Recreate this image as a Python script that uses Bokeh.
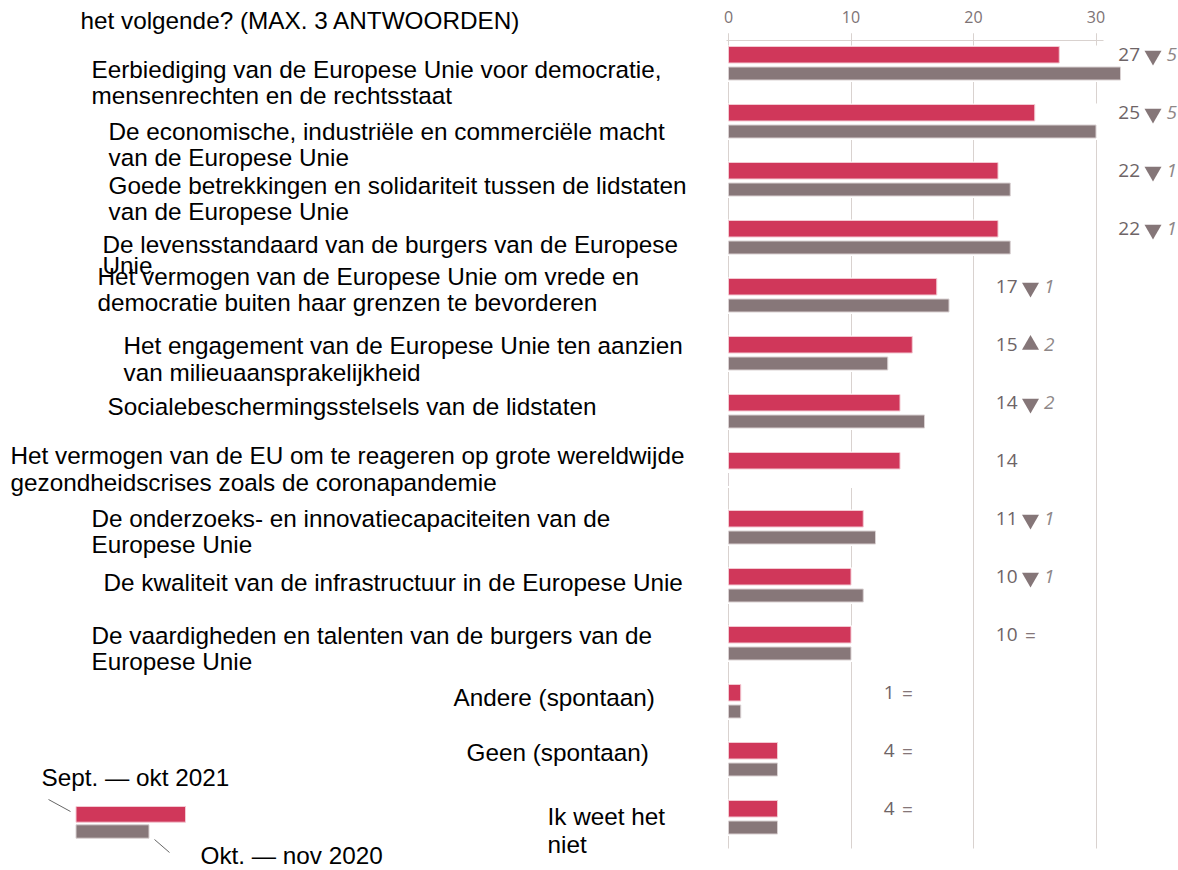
from bokeh.plotting import figure
from bokeh.models import Range1d, FixedTicker, LinearAxis, Grid
from bokeh.core.properties import value
from bokeh.embed import file_html
from bokeh.resources import INLINE

# ---------------- data ----------------
categories = [
    "Eerbiediging van de Europese Unie voor democratie,\nmensenrechten en de rechtsstaat",
    "De economische, industriële en commerciële macht\nvan de Europese Unie",
    "Goede betrekkingen en solidariteit tussen de lidstaten\nvan de Europese Unie",
    "De levensstandaard van de burgers van de Europese\nUnie",
    "Het vermogen van de Europese Unie om vrede en\ndemocratie buiten haar grenzen te bevorderen",
    "Het engagement van de Europese Unie ten aanzien\nvan milieuaansprakelijkheid",
    "Socialebeschermingsstelsels van de lidstaten",
    "Het vermogen van de EU om te reageren op grote wereldwijde\ngezondheidscrises zoals de coronapandemie",
    "De onderzoeks- en innovatiecapaciteiten van de\nEuropese Unie",
    "De kwaliteit van de infrastructuur in de Europese Unie",
    "De vaardigheden en talenten van de burgers van de\nEuropese Unie",
    "Andere (spontaan)",
    "Geen (spontaan)",
    "Ik weet het\nniet",
]
sept_okt_2021 = [27, 25, 22, 22, 17, 15, 14, 14, 11, 10, 10, 1, 4, 4]
okt_nov_2020 = [32, 30, 23, 23, 18, 13, 16, None, 12, 11, 10, 1, 4, 4]
tick_values = [0, 10, 20, 30]
series_names = ["Sept. — okt 2021", "Okt. — nov 2020"]
title_text = "het volgende? (MAX. 3 ANTWOORDEN)"

# ---------------- layout ----------------
W, H = 1178, 870
PX0, PXU = 728.0, 12.25     # canvas x of value 0, px per unit
PY0, PYU = 62.75, 58.0      # canvas y of row 0 centre, px per row


def xp(px):
    return (px - PX0) / PXU


def yp(py):
    return (py - PY0) / PYU


PINK = "#d0375a"
GREY = "#877779"
GRID = "#d9d2cf"
NUM_COL = "#6e6466"
TRI_COL = "#857678"
CHG_COL = "#8e8788"
TXT = "#000000"
LABEL_FONT = value("Liberation Sans")
NUM_FONT = value("Open Sans")
LABEL_SIZE = "24.3px"

# left label anchor: (left x, first line centre y) in canvas px
label_pos = [(91, 69), (108, 131), (108, 185), (102, 244), (97, 276), (123, 345),
             (107, 406), (10, 455), (91, 518), (103, 582), (91, 635), (453, 697),
             (466, 752), (547, 816)]
line_gap = [26, 26, 26, 21, 26, 27, 26, 27, 26, 26, 26, 26, 26, 28]
# centre of the change marker per row (canvas px)
marker_col = [1152.5] * 4 + [1030] * 7 + [907] * 3

PINK_OFF, PINK_H = -8.5 / PYU, 16.5 / PYU
GREY_OFF, GREY_H = 10.25 / PYU, 13.0 / PYU

p = figure(width=W, height=H, output_backend="svg", toolbar_location=None,
           x_axis_location=None, y_axis_location=None,
           x_range=Range1d(xp(0), xp(W)), y_range=Range1d(yp(H), yp(0)),
           min_border=0, min_border_left=0, min_border_right=0,
           min_border_top=0, min_border_bottom=0)
p.outline_line_color = None
p.background_fill_color = "white"
p.border_fill_color = "white"
p.xgrid.visible = False
p.ygrid.visible = False

ax = LinearAxis(ticker=FixedTicker(ticks=tick_values), fixed_location=yp(40),
                bounds=(xp(726), xp(1103)))
ax.axis_line_color = GRID
ax.major_tick_line_color = GRID
ax.major_tick_in = 4
ax.major_tick_out = 7
ax.minor_tick_line_color = None
ax.major_label_text_font = "Open Sans"
ax.major_label_text_font_size = "16px"
ax.major_label_text_color = "#7d7375"
ax.major_label_standoff = 11
p.add_layout(ax, "above")

grid_kw = dict(dimension=0, ticker=FixedTicker(ticks=tick_values),
               grid_line_color=GRID, grid_line_width=1)
if "cross_bounds" in Grid.properties():
    p.add_layout(Grid(cross_bounds=(yp(33), yp(848)), **grid_kw), "center")
else:
    p.segment(x0=tick_values, x1=tick_values, y0=[yp(33)] * len(tick_values),
              y1=[yp(848)] * len(tick_values), line_color=GRID, line_width=1)

n = len(categories)
rows = list(range(n))
prev_plot = [v if v is not None else 0 for v in okt_nov_2020]
row_max = [max(a, b) for a, b in zip(sept_okt_2021, prev_plot)]

# white backing to interrupt grid lines behind bars
p.hbar(y=[r + 0.5 / PYU for r in rows], height=36.5 / PYU, left=xp(726.3),
       right=[m + 1.5 / PXU for m in row_max], fill_color="white", line_color=None)

p.hbar(y=[r + PINK_OFF for r in rows], height=PINK_H, left=0, right=sept_okt_2021,
       fill_color=PINK, line_color="#f3c9d2", line_width=1)
p.hbar(y=[r + GREY_OFF for r in rows], height=GREY_H, left=0, right=prev_plot,
       fill_color=GREY, line_color="#d9d1d2", line_width=1)

# left category labels
for i, cat in enumerate(categories):
    lx, ly = label_pos[i]
    for k, line in enumerate(cat.split("\n")):
        p.text(x=[xp(lx)], y=[yp(ly + k * line_gap[i])], text=[line],
               text_font=LABEL_FONT, text_font_size=LABEL_SIZE, text_color=TXT,
               text_align="left", text_baseline="middle")

# value labels with change markers
num_x, num_y, num_t = [], [], []
chg_x, chg_y, chg_t = [], [], []
dn_x, dn_y, up_x, up_y, eq_x, eq_y = [], [], [], [], [], []
for i in rows:
    cy = i + PINK_OFF
    mx = xp(marker_col[i])
    num_x.append(mx - 13 / PXU)
    num_y.append(cy)
    num_t.append(str(sept_okt_2021[i]))
    if okt_nov_2020[i] is None:
        continue
    d = sept_okt_2021[i] - okt_nov_2020[i]
    if d < 0:
        dn_x.append(mx); dn_y.append(cy)
    elif d > 0:
        up_x.append(mx); up_y.append(cy)
    else:
        eq_x.append(mx); eq_y.append(cy)
    if d != 0:
        chg_x.append(mx + 13.5 / PXU)
        chg_y.append(cy)
        chg_t.append(str(abs(d)))

p.text(x=num_x, y=num_y, text=num_t, text_font=NUM_FONT, text_font_size="19px",
       text_color=NUM_COL, text_align="right", text_baseline="middle")
p.text(x=chg_x, y=chg_y, text=chg_t, text_font=NUM_FONT, text_font_size="19px",
       text_font_style="italic", text_color=CHG_COL, text_align="left",
       text_baseline="middle")
p.scatter(x=dn_x, y=[v + 1 / PYU for v in dn_y], marker="inverted_triangle", size=17,
          fill_color=TRI_COL, line_color=None)
p.scatter(x=up_x, y=up_y, marker="triangle", size=17,
          fill_color=TRI_COL, line_color=None)
p.text(x=eq_x, y=eq_y, text=["="] * len(eq_x), text_font=NUM_FONT,
       text_font_size="19px", text_color=TRI_COL, text_align="center",
       text_baseline="middle")

# legend
p.quad(left=[xp(75.5)], right=[xp(185)], top=[yp(806)], bottom=[yp(821.7)],
       fill_color=PINK, line_color="#f3c9d2", line_width=1)
p.quad(left=[xp(75.5)], right=[xp(148.5)], top=[yp(824.3)], bottom=[yp(837.7)],
       fill_color=GREY, line_color="#d9d1d2", line_width=1)
p.segment(x0=[xp(48), xp(154)], y0=[yp(799), yp(839)],
          x1=[xp(70), xp(169)], y1=[yp(811), yp(852)],
          line_color="#666666", line_width=1)
p.text(x=[xp(41), xp(200)], y=[yp(777), yp(855)], text=series_names,
       text_font=LABEL_FONT, text_font_size=LABEL_SIZE, text_color=TXT,
       text_align="left", text_baseline="middle")

# title (second line visible)
p.text(x=[xp(80)], y=[yp(20)], text=[title_text], text_font=LABEL_FONT,
       text_font_size=LABEL_SIZE, text_color=TXT, text_align="left",
       text_baseline="middle")

open("out.html", "w").write(file_html(p, INLINE))
